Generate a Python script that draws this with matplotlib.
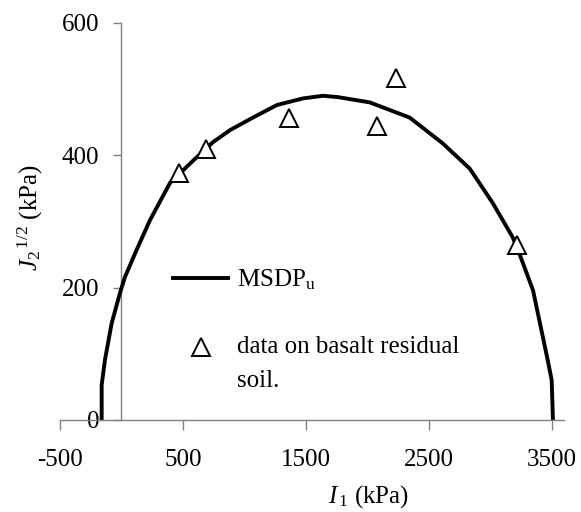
import numpy as np
import matplotlib
matplotlib.use("Agg")
import matplotlib.pyplot as plt

plt.rcParams['font.family'] = ['Liberation Serif', 'DejaVu Serif']
plt.rcParams['mathtext.fontset'] = 'custom'
plt.rcParams['mathtext.rm'] = 'Liberation Serif'
plt.rcParams['mathtext.it'] = 'Liberation Serif:italic'
plt.rcParams['axes.unicode_minus'] = False

# MSDP_u yield curve, I1 vs sqrt(J2) (kPa)
curve_i1 = [-161, -161, -134, -80, -12, 28, 123, 232, 394, 460, 583, 745, 882,
            1069, 1264, 1476, 1638, 1760, 2020, 2345, 2614, 2833, 3020, 3183,
            3240, 3348, 3467, 3500, 3510]
curve_j2 = [0, 53, 91, 146, 192, 216, 257, 302, 358, 370, 392, 420, 438,
            457, 476, 486, 490, 488, 480, 457, 418, 380, 328, 276,
            250, 196, 91, 60, 0]

# test data on basalt residual soil
data_i1 = [467, 688, 1362, 2077, 2232, 3215]
data_j2 = [373, 409, 457, 445, 517, 264]

xticks = [-500, 500, 1500, 2500, 3500]
yticks = [0, 200, 400, 600]

fig = plt.figure(figsize=(5.81, 5.12), dpi=100)
ax = fig.add_axes([60 / 581, 92 / 512, 504 / 581, 397 / 512])

ax.plot(curve_i1, curve_j2, color='black', lw=2.8, label=r'MSDP$_{\mathrm{u}}$', zorder=2)
ax.plot(data_i1, data_j2, ls='none', marker='^', ms=13, mfc='white', mec='black',
        mew=1.4, label='data on basalt residual\nsoil.', zorder=3)

ax.set_xlim(-500, 3600)
ax.set_ylim(0, 600)
ax.set_xticks(xticks)
ax.set_yticks(yticks)

for s in ['top', 'right']:
    ax.spines[s].set_visible(False)
ax.spines['left'].set_position(('data', 0))
for s in ['left', 'bottom']:
    ax.spines[s].set_color('#808080')
    ax.spines[s].set_linewidth(1.0)
ax.spines['left'].set_zorder(1)

ax.tick_params(axis='x', direction='out', length=7, width=1.0, color='#808080',
               labelsize=18, pad=14)
ax.tick_params(axis='y', direction='out', length=6, width=1.0, color='#808080',
               labelsize=18, pad=10)

ax.set_xlabel(r'$\mathit{I}_{\,\mathrm{1}}$ (kPa)', fontsize=18)
ax.set_ylabel(r'$\mathit{J}_{\mathrm{2}}{}^{\,\mathrm{1/2}}$ (kPa)', fontsize=18)
ax.xaxis.set_label_coords(0.612, -0.158)
ax.yaxis.set_label_coords(-0.03, 0.509)

leg = ax.legend(loc='upper left', bbox_to_anchor=(0.18, 0.44), frameon=False,
                fontsize=18, handlelength=2.2, handletextpad=0.35, labelspacing=1.76)
for t in leg.get_texts():
    t.set_linespacing(1.7)
# keep the triangle level with the first line of its two-line label
mk = leg.legend_handles[1]
mk.set_ydata(np.asarray(mk.get_ydata()) + 12.6)

fig.savefig('out.png', dpi=100)
